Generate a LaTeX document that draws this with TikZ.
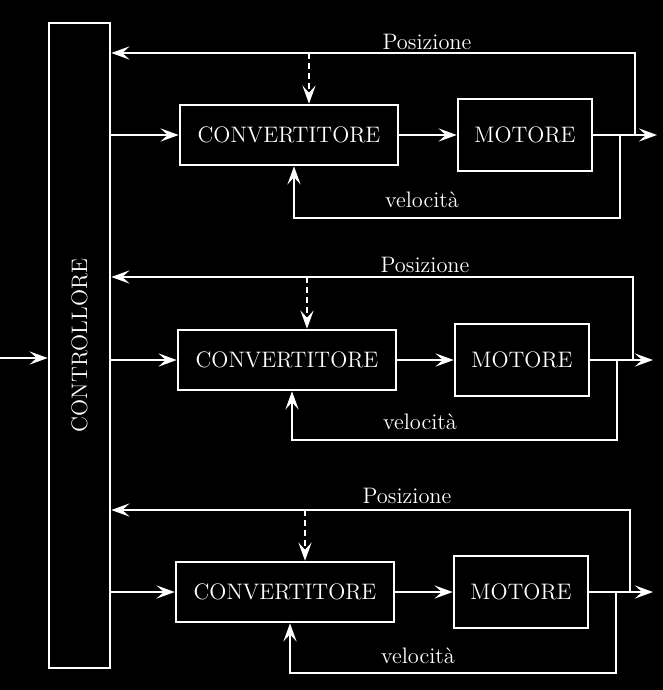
\documentclass[tikz,border=0pt]{standalone}
\usepackage{graphicx}
\usetikzlibrary{arrows.meta}

\begin{document}
\begin{tikzpicture}[x=0.5pt,y=-0.5pt,white,line width=1.3pt,
  >={Stealth[length=9pt,width=6.5pt,inset=3.5pt]},
  font=\fontsize{11.2}{13}\selectfont,
  blocco/.style={draw,inner sep=0pt},
  conv/.style={blocco,minimum width=109pt,minimum height=30pt},
  mot/.style={blocco,minimum width=67pt,minimum height=36pt},
  tratteggio/.style={->,dash pattern=on 3pt off 2pt}]
  \fill[black] (0,0) rectangle (663,690);
  \useasboundingbox (0,0) rectangle (663,690);

  % controllore
  \node[blocco,minimum width=30.5pt,minimum height=322.5pt] (ctrl) at (79.5,345.5) {\rotatebox{90}{CONTROLLORE}};
  \coordinate (ingresso) at (0,358);
  \draw[->] (ingresso) -- (ingresso -| ctrl.west);

  % primo asse
  \node[conv] (conv1) at (289,135) {CONVERTITORE};
  \node[mot] (mot1) at (525,135) {MOTORE};
  \coordinate (out1) at (657,135);
  \coordinate (pos1) at (635,53);
  \coordinate (vel1) at (620,218);
  \coordinate (dash1) at ([xshift=10pt]conv1.north);
  \draw[->] (ctrl.east |- conv1.west) -- (conv1.west);
  \draw[->] (conv1) -- (mot1);
  \draw[->] (mot1) -- (out1);
  \draw[->] (pos1 |- out1) -- (pos1) -- (pos1 -| ctrl.east);
  \draw[->] (vel1 |- out1) -- (vel1) -| ([xshift=2.5pt]conv1.south);
  \draw[tratteggio] (dash1 |- pos1) -- (dash1);
  \node (posiz1) at (427,42) {Posizione};
  \node (veloc1) at (422,200) {velocità};

  % secondo asse
  \node[conv] (conv2) at (287,360) {CONVERTITORE};
  \node[mot] (mot2) at (522,360) {MOTORE};
  \coordinate (out2) at (653,360);
  \coordinate (pos2) at (633,277);
  \coordinate (vel2) at (617,440);
  \coordinate (dash2) at ([xshift=10pt]conv2.north);
  \draw[->] (ctrl.east |- conv2.west) -- (conv2.west);
  \draw[->] (conv2) -- (mot2);
  \draw[->] (mot2) -- (out2);
  \draw[->] (pos2 |- out2) -- (pos2) -- (pos2 -| ctrl.east);
  \draw[->] (vel2 |- out2) -- (vel2) -| ([xshift=2.5pt]conv2.south);
  \draw[tratteggio] (dash2 |- pos2) -- (dash2);
  \node (posiz2) at (425,265) {Posizione};
  \node (veloc2) at (420,422) {velocità};

  % terzo asse
  \node[conv] (conv3) at (285,592) {CONVERTITORE};
  \node[mot] (mot3) at (521,592) {MOTORE};
  \coordinate (out3) at (653,592);
  \coordinate (pos3) at (630,510);
  \coordinate (vel3) at (616,673);
  \coordinate (dash3) at ([xshift=10pt]conv3.north);
  \draw[->] (ctrl.east |- conv3.west) -- (conv3.west);
  \draw[->] (conv3) -- (mot3);
  \draw[->] (mot3) -- (out3);
  \draw[->] (pos3 |- out3) -- (pos3) -- (pos3 -| ctrl.east);
  \draw[->] (vel3 |- out3) -- (vel3) -| ([xshift=2.5pt]conv3.south);
  \draw[tratteggio] (dash3 |- pos3) -- (dash3);
  \node (posiz3) at (407,496) {Posizione};
  \node (veloc3) at (418,656) {velocità};
\end{tikzpicture}
\end{document}
